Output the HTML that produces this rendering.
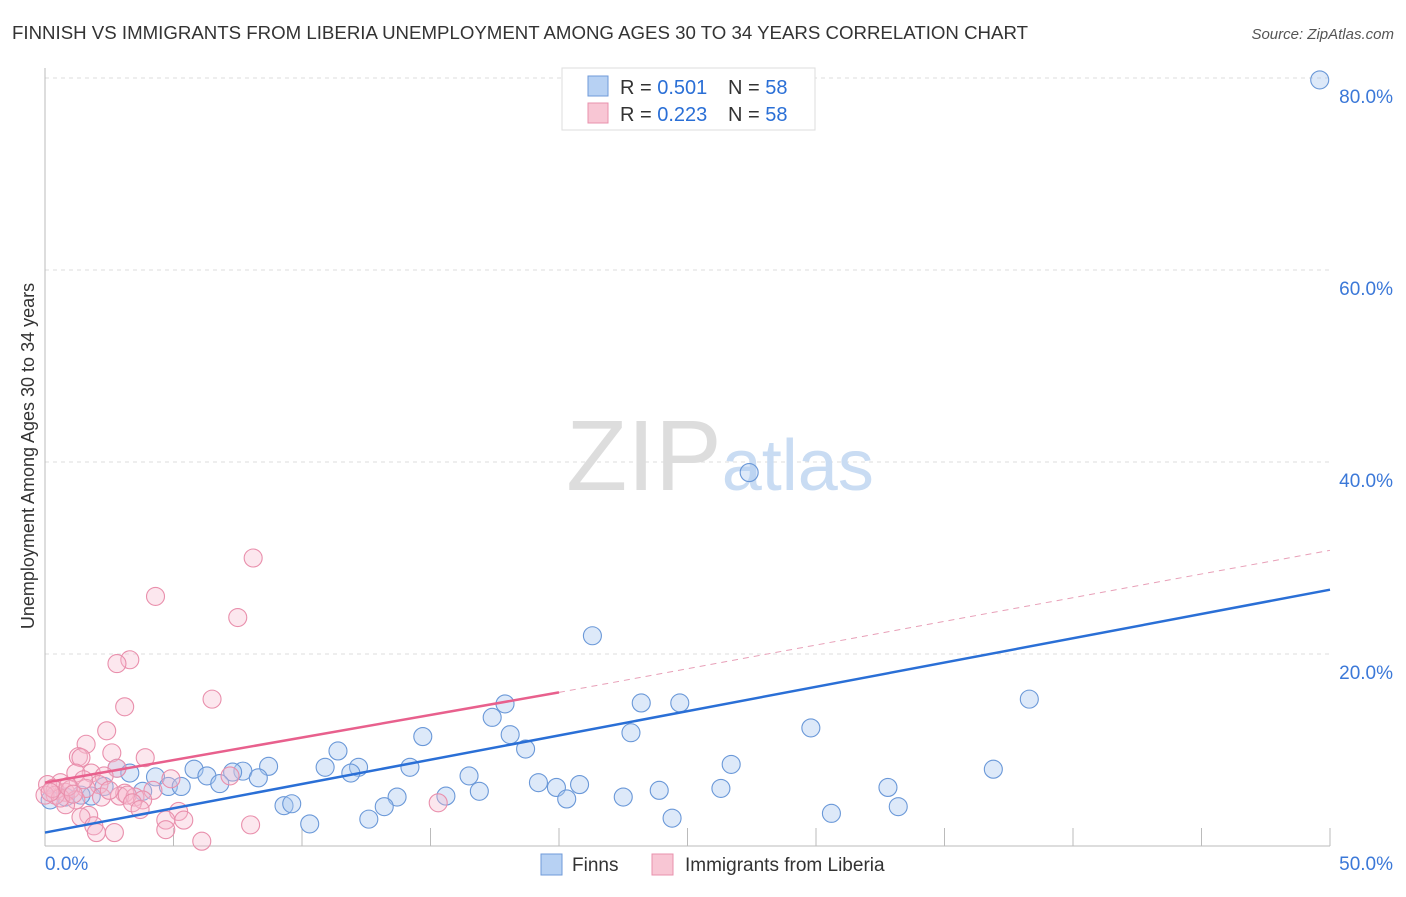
<!DOCTYPE html>
<html><head><meta charset="utf-8"><style>
body{margin:0;background:#fff;font-family:"Liberation Sans",sans-serif}
svg text{font-family:"Liberation Sans",sans-serif}
</style></head><body>
<svg width="1406" height="892" viewBox="0 0 1406 892" xmlns="http://www.w3.org/2000/svg">
<text x="12" y="39" font-size="18" fill="#333" textLength="1016" lengthAdjust="spacingAndGlyphs">FINNISH VS IMMIGRANTS FROM LIBERIA UNEMPLOYMENT AMONG AGES 30 TO 34 YEARS CORRELATION CHART</text>
<text x="1394" y="39" font-size="15" fill="#555" text-anchor="end" font-style="italic">Source: ZipAtlas.com</text>
<g id="grid"></g>
<text x="720" y="490" font-size="100" text-anchor="middle" fill="#ddd" font-family="Liberation Serif"><tspan>ZIP</tspan><tspan fill="#c9dcf3" font-family="Liberation Sans" font-size="72">atlas</tspan></text>
<text transform="translate(34,456) rotate(-90)" font-size="18" fill="#333" text-anchor="middle">Unemployment Among Ages 30 to 34 years</text>
<g id="pts"></g>
<g id="lines"></g>
<g>
<rect x="562" y="68" width="253" height="62" fill="#fff" stroke="#ddd"/>
<rect x="588" y="76" width="20" height="20" fill="#b7d1f3" stroke="#6f9ad8"/>
<text x="620" y="94" font-size="20" fill="#333">R = <tspan fill="#2a6fd6">0.501</tspan></text>
<text x="728" y="94" font-size="20" fill="#333">N = <tspan fill="#2a6fd6">58</tspan></text>
<rect x="588" y="103" width="20" height="20" fill="#f8c6d4" stroke="#e891ad"/>
<text x="620" y="121" font-size="20" fill="#333">R = <tspan fill="#2a6fd6">0.223</tspan></text>
<text x="728" y="121" font-size="20" fill="#333">N = <tspan fill="#2a6fd6">58</tspan></text>
</g>
<g>
<rect x="541" y="854" width="21" height="21" fill="#b7d1f3" stroke="#6f9ad8"/>
<text x="572" y="871" font-size="19" fill="#333">Finns</text>
<rect x="652" y="854" width="21" height="21" fill="#f8c6d4" stroke="#e891ad"/>
<text x="685" y="871" font-size="19" fill="#333">Immigrants from Liberia</text>
</g>
</svg>
<script>
const yTicks=[20,40,60,80];
const yTickLabels=["20.0%","40.0%","60.0%","80.0%"];
const xTicks=[0,5,10,15,20,25,30,35,40,45,50];
const xEndLabels=["0.0%","50.0%"];
const finnsX=[49.6,27.4,21.3,38.3,17.9,23.2,24.7,17.4,29.8,22.8,14.7,18.1,18.7,11.4,8.7,10.9,12.2,14.2,26.7,36.9,5.8,2.8,7.7,7.3,3.3,4.3,6.3,8.3,11.9,16.5,19.2,20.8,6.8,4.8,5.3,2.3,19.9,16.9,23.9,26.3,32.8,3.8,15.6,13.7,20.3,22.5,1.8,0.8,0.2,9.3,9.6,13.2,33.2,30.6,12.6,24.4,10.3,1.4];
const finnsY=[79.8,38.9,21.9,15.3,14.8,14.9,14.9,13.4,12.3,11.8,11.4,11.6,10.1,9.9,8.3,8.2,8.2,8.2,8.5,8.0,8.0,8.1,7.8,7.7,7.6,7.2,7.3,7.1,7.6,7.3,6.6,6.4,6.5,6.2,6.2,6.2,6.1,5.7,5.8,6.0,6.1,5.7,5.2,5.1,4.9,5.1,5.2,5.1,4.8,4.2,4.4,4.1,4.1,3.4,2.8,2.9,2.3,5.3];
const libX=[8.1,4.3,7.5,3.3,2.8,6.5,3.1,2.4,1.6,2.6,3.9,1.3,1.4,2.8,1.8,1.2,2.3,4.9,7.2,2.1,0.6,0.1,0.4,0.8,1.0,1.6,4.2,3.1,2.9,2.2,3.5,3.2,3.8,3.4,1.2,0.8,15.3,3.7,5.2,1.7,1.4,4.7,5.4,1.9,8.0,4.7,2.0,2.7,6.1,0.4,0.0,0.6,2.5,1.5,0.3,0.9,1.1,0.2];
const libY=[30.0,26.0,23.8,19.4,19.0,15.3,14.5,12.0,10.6,9.7,9.2,9.3,9.2,8.1,7.6,7.6,7.3,7.0,7.3,6.4,6.6,6.4,5.8,5.6,5.9,6.0,5.8,5.5,5.2,5.1,5.1,5.3,4.8,4.5,4.8,4.3,4.5,3.8,3.6,3.2,3.0,2.7,2.7,2.1,2.2,1.7,1.4,1.4,0.5,5.3,5.3,5.0,5.8,6.9,6.0,6.2,5.4,5.6];
const finnsTrend=[[0,1.4],[50,26.7]];
const libTrend=[[0,6.6],[20,16.0],[50,30.8]];
const NS="http://www.w3.org/2000/svg";
const X=v=>45+v/50*1285, Y=v=>846-v*9.6;
function mk(t,a,p){const e=document.createElementNS(NS,t);for(const k in a)e.setAttribute(k,a[k]);p.appendChild(e);return e;}
const g=document.getElementById('grid');
yTicks.forEach((t,i)=>{
 const l=mk('line',{x1:45,x2:1330,y1:Y(t),y2:Y(t),stroke:'#ddd','stroke-dasharray':'4,4'},g);
 
 
 const tx=mk('text',{x:1393,y:Y(t)+25,'font-size':19,fill:'#3b78d8','text-anchor':'end'},g);tx.textContent=yTickLabels[i];
 
 
});
const ax=mk('line',{x1:45,x2:45,y1:68,y2:846,stroke:'#bbb'},g);


const bx=mk('line',{x1:45,x2:1330,y1:846,y2:846,stroke:'#bbb'},g);


xTicks.forEach(t=>{if(t===0)return;const l=mk('line',{x1:X(t),x2:X(t),y1:828,y2:846,stroke:'#bbb'},g);
 
 });
[[0,'start',45],[50,'end',1393]].forEach((d,i)=>{const tx=mk('text',{x:d[2],y:870,'font-size':19,fill:'#3b78d8','text-anchor':d[1]},g);tx.textContent=xEndLabels[i];
 
 });
const p=document.getElementById('pts');
finnsX.forEach((x,i)=>{const c=mk('circle',{cx:X(x),cy:Y(finnsY[i]),r:9,fill:'rgba(170,200,240,0.4)',stroke:'#6a98d8','stroke-width':1.1},p);
 
 });
libX.forEach((x,i)=>{const c=mk('circle',{cx:X(x),cy:Y(libY[i]),r:9,fill:'rgba(246,185,205,0.35)',stroke:'#e98fac','stroke-width':1.1},p);
 
 });
const L=document.getElementById('lines');
const b=mk('line',{x1:X(finnsTrend[0][0]),y1:Y(finnsTrend[0][1]),x2:X(finnsTrend[1][0]),y2:Y(finnsTrend[1][1]),stroke:'#2a6fd6','stroke-width':2.5},L);


const pk=mk('line',{x1:X(libTrend[0][0]),y1:Y(libTrend[0][1]),x2:X(libTrend[1][0]),y2:Y(libTrend[1][1]),stroke:'#e8608d','stroke-width':2.5},L);


const pd=mk('line',{x1:X(libTrend[1][0]),y1:Y(libTrend[1][1]),x2:X(libTrend[2][0]),y2:Y(libTrend[2][1]),stroke:'#e8a0b8','stroke-width':1,'stroke-dasharray':'6,5'},L);


</script>
</body></html>
